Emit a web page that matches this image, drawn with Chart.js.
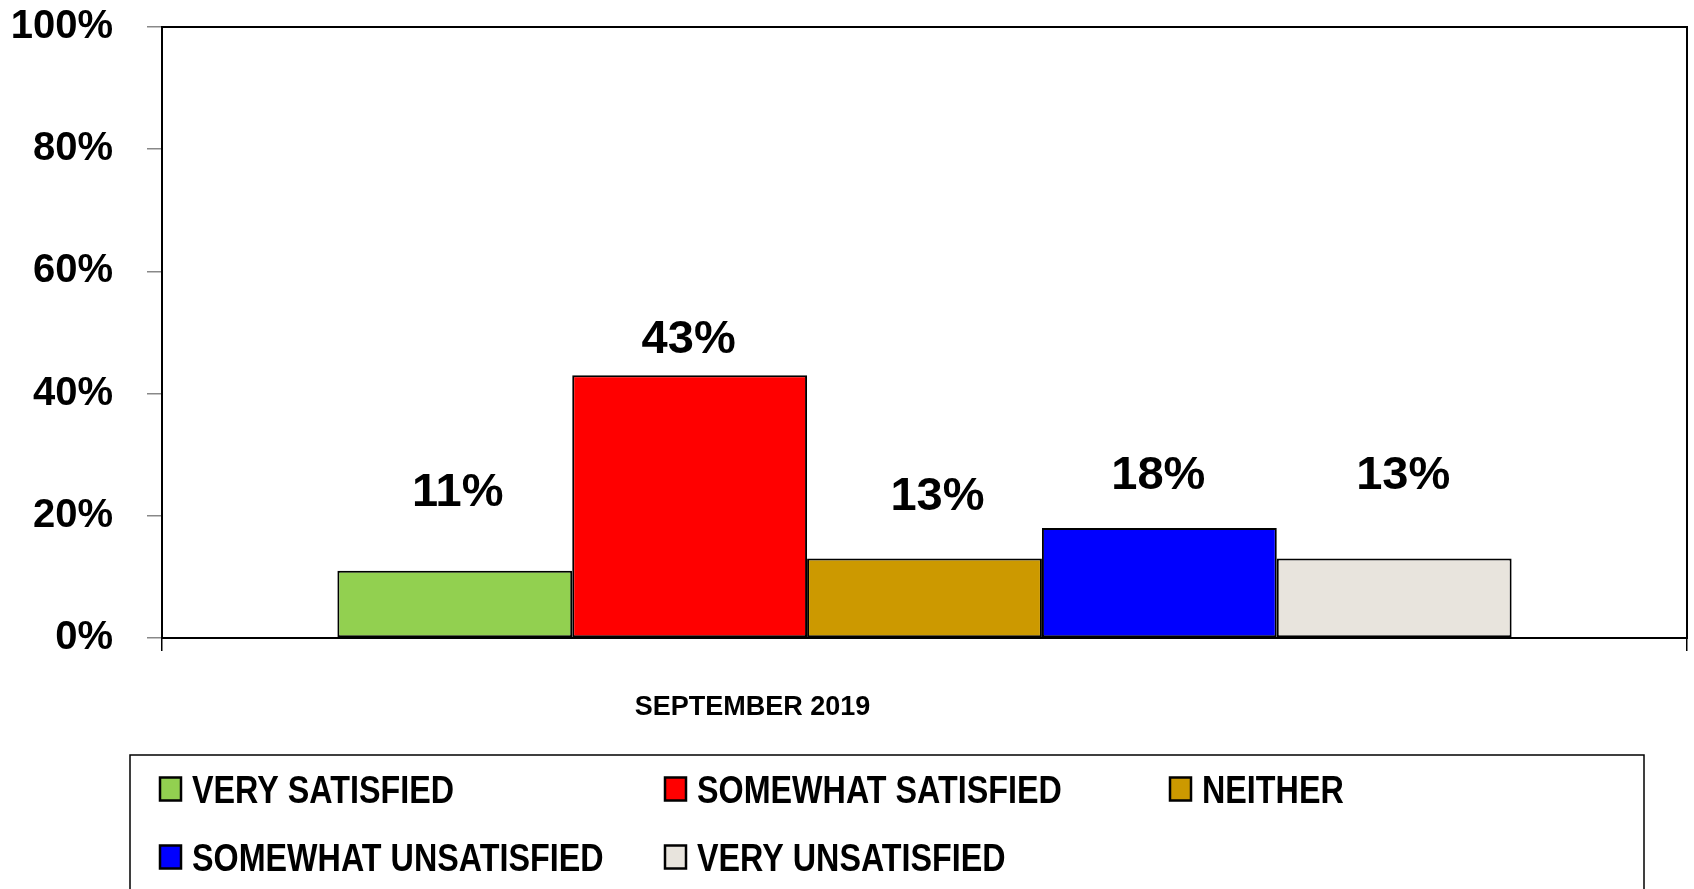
<!DOCTYPE html>
<html>
<head>
<meta charset="utf-8">
<title>Satisfaction – September 2019</title>
<script src="https://cdn.jsdelivr.net/npm/chart.js@4.4.1/dist/chart.umd.min.js"></script>
<style>
  html, body { margin: 0; padding: 0; background: #ffffff; }
  #wrap { width: 1694px; height: 889px; }
  canvas { display: block; }
</style>
</head>
<body>
<div id="wrap"><canvas id="chart" width="1694" height="889"></canvas></div>
<script>
// ---- data ----
const categories = ['SEPTEMBER 2019'];
const seriesNames = ['VERY SATISFIED', 'SOMEWHAT SATISFIED', 'NEITHER', 'SOMEWHAT UNSATISFIED', 'VERY UNSATISFIED'];
const seriesValues = [11, 43, 13, 18, 13];
const yTickValues = [0, 20, 40, 60, 80, 100];

// ---- styling ----
const seriesColors = ['#92D050', '#FF0000', '#CC9900', '#0000FF', '#E8E4DD'];
const FAMILY = '"Liberation Sans", Arial, Helvetica, sans-serif';
const pct = v => v + '%';

// value labels, positioned relative to the top of each bar
const valueLabelPlugin = {
  id: 'valueLabels',
  afterDatasetsDraw(chart, args, opts) {
    const ctx = chart.ctx;
    ctx.save();
    ctx.font = 'bold ' + opts.size + 'px ' + FAMILY;
    ctx.fillStyle = '#000';
    ctx.textAlign = 'center';
    ctx.textBaseline = 'alphabetic';
    chart.data.datasets.forEach((ds, i) => {
      const bar = chart.getDatasetMeta(i).data[0];
      if (!bar) return;
      const cx = bar.x + (opts.shift[i] || 0);
      const cy = bar.y - (opts.lift[i] || 0);
      ctx.fillText(pct(ds.data[0]), cx, cy + opts.size * 0.358);
    });
    ctx.restore();
  }
};

// black frame around the plot area
const framePlugin = {
  id: 'plotFrame',
  afterDatasetsDraw(chart) {
    const { ctx, chartArea: a } = chart;
    ctx.save();
    ctx.strokeStyle = '#000';
    ctx.lineWidth = 2;
    ctx.strokeRect(a.left, a.top, a.right - a.left, a.bottom - a.top);
    ctx.restore();
  }
};

// boxed legend in fixed-width columns below the axis
const boxLegendPlugin = {
  id: 'boxLegend',
  afterDraw(chart, args, o) {
    const ctx = chart.ctx;
    ctx.save();
    ctx.strokeStyle = '#000';
    ctx.lineWidth = 1.5;
    ctx.strokeRect(o.boxLeft, o.boxTop, o.boxRight - o.boxLeft, chart.height + 20 - o.boxTop);
    ctx.font = 'bold ' + o.size + 'px ' + FAMILY;
    ctx.textAlign = 'left';
    ctx.textBaseline = 'alphabetic';
    chart.data.datasets.forEach((ds, i) => {
      const col = i % o.columns;
      const row = Math.floor(i / o.columns);
      const mx = o.left + col * o.colWidth;
      const my = o.firstRow + row * o.rowGap;
      ctx.fillStyle = ds.backgroundColor;
      ctx.fillRect(mx, my - o.markH / 2, o.markW, o.markH);
      ctx.lineWidth = 2.5;
      ctx.strokeStyle = '#000';
      ctx.strokeRect(mx, my - o.markH / 2, o.markW, o.markH);
      ctx.save();
      ctx.translate(mx + o.textGap, my + o.size * 0.358);
      ctx.scale(o.squeeze, 1);
      ctx.fillStyle = '#000';
      ctx.fillText(ds.label, 0, 0);
      ctx.restore();
    });
    ctx.restore();
  }
};

const datasets = seriesNames.map((name, i) => ({
  label: name,
  data: [seriesValues[i]],
  backgroundColor: seriesColors[i],
  borderColor: '#000000',
  borderWidth: 2,
  borderSkipped: false
}));

new Chart(document.getElementById('chart'), {
  type: 'bar',
  data: { labels: categories, datasets },
  plugins: [valueLabelPlugin, framePlugin, boxLegendPlugin],
  options: {
    responsive: false,
    devicePixelRatio: 1,
    animation: false,
    layout: { padding: { top: 27, right: 7, bottom: 134, left: 0 } },
    datasets: { bar: { categoryPercentage: 0.77, barPercentage: 1.0 } },
    plugins: {
      legend: { display: false },
      tooltip: { enabled: false },
      valueLabels: { size: 47, lift: [82, 39, 65, 56, 86], shift: [3, -1, 13, -1, 9] },
      boxLegend: {
        boxLeft: 130, boxRight: 1644, boxTop: 755,
        left: 160, colWidth: 505, columns: 3,
        firstRow: 789, rowGap: 68,
        markW: 21, markH: 23, textGap: 32,
        size: 38, squeeze: 0.85
      }
    },
    scales: {
      x: {
        offset: true,
        border: { display: false },
        grid: { offset: true, drawOnChartArea: false, drawTicks: true, tickLength: 13, color: '#000', lineWidth: 1.5 },
        ticks: {
          color: '#000', maxRotation: 0, padding: 40, labelOffset: -172,
          font: { family: FAMILY, size: 27, weight: 'bold' }
        },
        afterFit(s) { s.height = 117; s.paddingLeft = 0; s.paddingRight = 0; }
      },
      y: {
        min: 0, max: 100,
        border: { display: false },
        grid: { drawOnChartArea: false, drawTicks: true, tickLength: 15, color: '#888', lineWidth: 1.5 },
        ticks: {
          color: '#000', padding: 34,
          font: { family: FAMILY, size: 40, weight: 'bold' },
          callback: v => pct(v)
        },
        afterBuildTicks(s) { s.ticks = yTickValues.map(v => ({ value: v })); },
        afterFit(s) { s.width = 162; s.paddingTop = 0; s.paddingBottom = 0; }
      }
    }
  }
});
</script>
</body>
</html>
